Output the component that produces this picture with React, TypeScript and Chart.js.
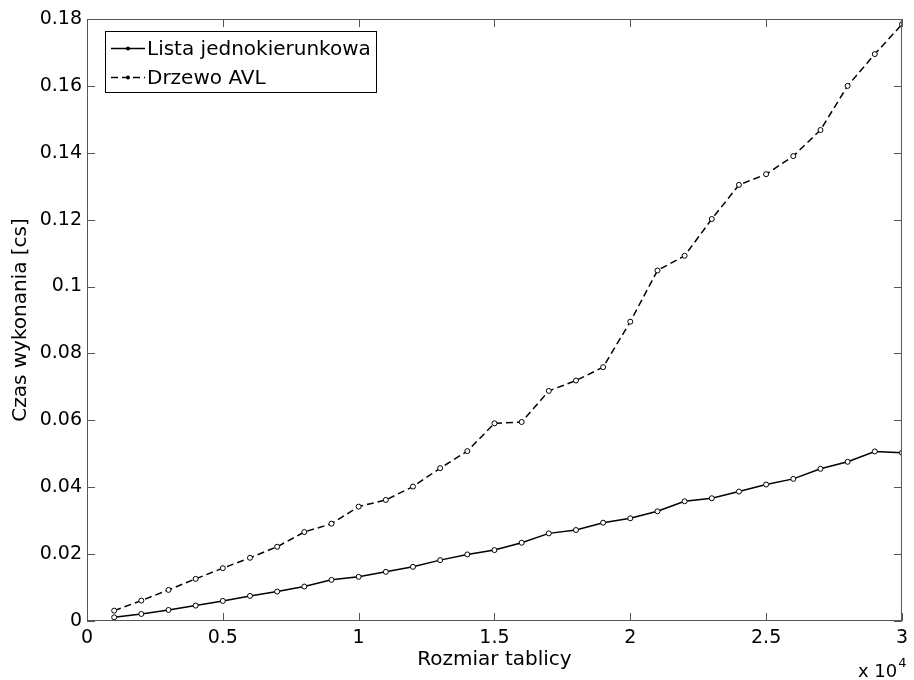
import React, { useEffect, useRef } from "react";
import { Chart, registerables } from "chart.js";

Chart.register(...registerables);

// ---- data ----
const tableSizes = [
  1000, 2000, 3000, 4000, 5000, 6000, 7000, 8000, 9000, 10000,
  11000, 12000, 13000, 14000, 15000, 16000, 17000, 18000, 19000, 20000,
  21000, 22000, 23000, 24000, 25000, 26000, 27000, 28000, 29000, 30000,
];
const listaTimes = [
  0.0011, 0.0021, 0.0033, 0.0046, 0.006, 0.0075, 0.0088, 0.0103, 0.0123, 0.0132,
  0.0147, 0.0162, 0.0182, 0.0199, 0.0212, 0.0234, 0.0262, 0.0272, 0.0294, 0.0307,
  0.0328, 0.0358, 0.0367, 0.0387, 0.0408, 0.0425, 0.0455, 0.0476, 0.0507, 0.0503,
];
const avlTimes = [
  0.0031, 0.0061, 0.0093, 0.0126, 0.0158, 0.0189, 0.0222, 0.0266, 0.0291, 0.0342,
  0.0362, 0.0402, 0.0457, 0.0508, 0.0591, 0.0595, 0.0688, 0.0719, 0.0759, 0.0895,
  0.1048, 0.1092, 0.1202, 0.1304, 0.1336, 0.139, 0.1468, 0.16, 0.1695, 0.1784,
];
const seriesNames = ["Lista jednokierunkowa", "Drzewo AVL"];
const xTickLabels = ["0", "0.5", "1", "1.5", "2", "2.5", "3"];
const yTickLabels = ["0", "0.02", "0.04", "0.06", "0.08", "0.1", "0.12", "0.14", "0.16", "0.18"];
const xTitle = "Rozmiar tablicy";
const yTitle = "Czas wykonania [cs]";
const xExponentBase = "x 10";
const xExponent = "4";

const FONT = "'DejaVu Sans', sans-serif";
const AXIS_COLOR = "#555";

const matlabPlugin = {
  id: "matlabAxes",
  afterDraw(chart: any) {
    const { ctx, chartArea } = chart;
    const { left, right, top, bottom } = chartArea;
    const xs = chart.scales.x;
    const ys = chart.scales.y;
    ctx.save();
    // box
    ctx.strokeStyle = AXIS_COLOR;
    ctx.lineWidth = 1;
    ctx.setLineDash([]);
    ctx.beginPath();
    ctx.rect(left + 0.5, top + 0.5, right - left - 1, bottom - top - 1);
    ctx.stroke();
    // inward ticks
    const tl = 8;
    ctx.beginPath();
    xs.ticks.forEach((t: any) => {
      const px = Math.round(xs.getPixelForValue(t.value)) + 0.5;
      ctx.moveTo(px, bottom);
      ctx.lineTo(px, bottom - tl);
      ctx.moveTo(px, top);
      ctx.lineTo(px, top + tl);
    });
    ys.ticks.forEach((t: any) => {
      const py = Math.round(ys.getPixelForValue(t.value)) + 0.5;
      ctx.moveTo(left, py);
      ctx.lineTo(left + tl, py);
      ctx.moveTo(right, py);
      ctx.lineTo(right - tl, py);
    });
    ctx.stroke();

    // exponent label
    ctx.fillStyle = "#000";
    ctx.textBaseline = "alphabetic";
    ctx.textAlign = "left";
    ctx.font = `18px ${FONT}`;
    const bx = 858;
    const by = 676.5;
    ctx.fillText(xExponentBase, bx, by);
    const w = ctx.measureText(xExponentBase).width;
    ctx.font = `13px ${FONT}`;
    ctx.fillText(xExponent, bx + w + 1, by - 10);

    // legend
    const lx = 105.5, ly = 31.5, lw = 271, lh = 61;
    ctx.fillStyle = "#fff";
    ctx.fillRect(lx, ly, lw, lh);
    ctx.strokeStyle = "#000";
    ctx.lineWidth = 1;
    ctx.strokeRect(lx, ly, lw, lh);
    const rows = [48.5, 77.5];
    chart.data.datasets.forEach((ds: any, i: number) => {
      const y = rows[i];
      ctx.strokeStyle = ds.borderColor;
      ctx.lineWidth = ds.borderWidth;
      ctx.setLineDash(ds.borderDash || []);
      ctx.beginPath();
      ctx.moveTo(111, y);
      ctx.lineTo(145, y);
      ctx.stroke();
      ctx.setLineDash([]);
      ctx.beginPath();
      ctx.arc(128, y, 2, 0, Math.PI * 2);
      ctx.fillStyle = "#000";
      ctx.fill();
      ctx.fillStyle = "#000";
      ctx.font = `20px ${FONT}`;
      ctx.textBaseline = "middle";
      ctx.fillText(ds.label, 147, y + 1);
    });
    ctx.restore();
  },
};

export default function App() {
  const ref = useRef<HTMLCanvasElement>(null);
  useEffect(() => {
    document.body.style.margin = "0";
    const canvas = ref.current!;
    const chart = new Chart(canvas, {
      type: "line",
      data: {
        datasets: [
          {
            label: seriesNames[0],
            data: tableSizes.map((x, i) => ({ x, y: listaTimes[i] })),
            borderColor: "#000",
            borderWidth: 1.5,
            pointRadius: 2.5,
            pointBackgroundColor: "#fff",
            pointBorderColor: "#000",
            pointBorderWidth: 1,
            tension: 0,
            fill: false,
          },
          {
            label: seriesNames[1],
            data: tableSizes.map((x, i) => ({ x, y: avlTimes[i] })),
            borderColor: "#000",
            borderWidth: 1.5,
            borderDash: [7, 4],
            pointRadius: 2.5,
            pointBackgroundColor: "#fff",
            pointBorderColor: "#000",
            pointBorderWidth: 1,
            tension: 0,
            fill: false,
          },
        ],
      },
      options: {
        responsive: false,
        animation: false,
        devicePixelRatio: 1,
        layout: { padding: { left: 0, top: 19, right: 6, bottom: 0 } },
        plugins: { legend: { display: false }, tooltip: { enabled: false } },
        scales: {
          x: {
            type: "linear",
            min: 0,
            max: 30000,
            grid: { display: false, drawTicks: false },
            border: { display: false },
            ticks: {
              stepSize: 5000,
              padding: 6,
              color: "#000",
              font: { family: FONT, size: 19 },
              maxRotation: 0,
              autoSkip: false,
              callback: (_v: any, i: number) => xTickLabels[i],
            },
            title: {
              display: true,
              text: xTitle,
              color: "#000",
              font: { family: FONT, size: 20 },
              padding: { top: 0, bottom: 8 },
            },
            afterFit: (s: any) => {
              s.height = 59;
            },
          },
          y: {
            type: "linear",
            min: 0,
            max: 0.18,
            grid: { display: false, drawTicks: false },
            border: { display: false },
            ticks: {
              stepSize: 0.02,
              padding: 5,
              color: "#000",
              font: { family: FONT, size: 19 },
              autoSkip: false,
              callback: (_v: any, i: number) => yTickLabels[i],
            },
            title: {
              display: true,
              text: yTitle,
              color: "#000",
              font: { family: FONT, size: 20 },
              padding: { top: 9, bottom: 0 },
            },
            afterFit: (s: any) => {
              s.width = 87;
            },
          },
        },
      },
      plugins: [matlabPlugin],
    });
    return () => chart.destroy();
  }, []);
  return (
    <div style={{ width: 914, height: 680, background: "#fff" }}>
      <canvas ref={ref} width={914} height={680} style={{ display: "block" }} />
    </div>
  );
}
